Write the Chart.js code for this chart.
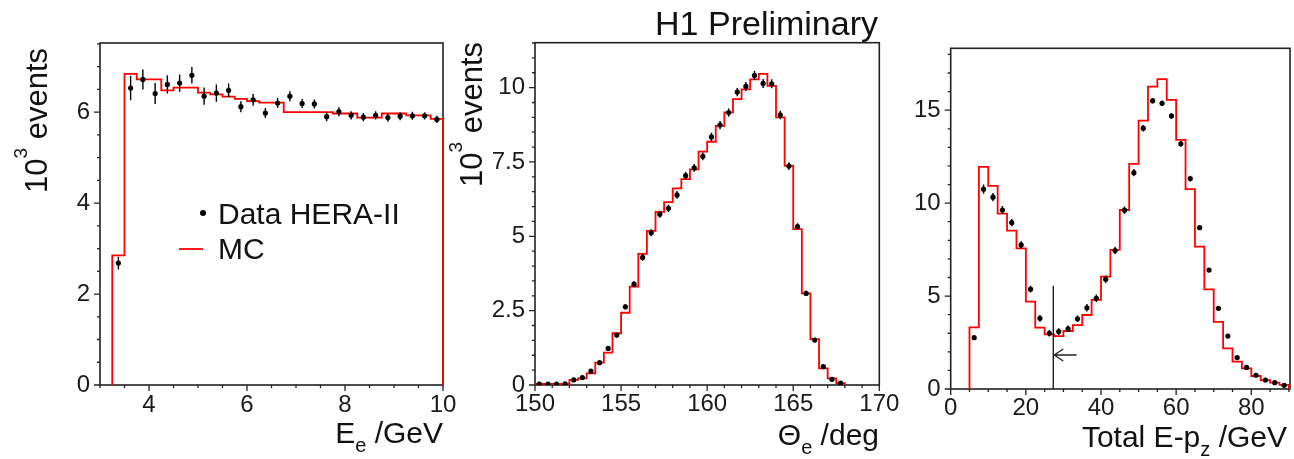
<!DOCTYPE html>
<html>
<head>
<meta charset="utf-8">
<script src="https://cdn.jsdelivr.net/npm/chart.js@4.4.1/dist/chart.umd.min.js"></script>
<style>
  html, body { margin: 0; padding: 0; background: #fff; }
  #wrap { position: relative; width: 1294px; height: 459px; overflow: hidden; }
  .pane { position: absolute; top: 0; height: 459px; }
</style>
</head>
<body>
<div id="wrap">
  <div class="pane" style="left:0;width:465px"><canvas id="c1"></canvas></div>
  <div class="pane" style="left:448px;width:455px"><canvas id="c2"></canvas></div>
  <div class="pane" style="left:888px;width:406px"><canvas id="c3"></canvas></div>
</div>
<script>
// ---- panel 1 : electron energy E_e (GeV), 10^3 events
const eeEdges = [3.25, 3.5, 3.75, 4, 4.25, 4.5, 4.75, 5, 5.25, 5.5, 5.75, 6, 6.25, 6.5, 6.75,
  7, 7.25, 7.5, 7.75, 8, 8.25, 8.5, 8.75, 9, 9.25, 9.5, 9.75, 10];
const eeMC = [2.85, 6.84, 6.72, 6.72, 6.48, 6.54, 6.54, 6.43, 6.39, 6.34, 6.29, 6.24, 6.21, 6.21,
  6.0, 6.0, 6.0, 6.0, 5.97, 5.97, 5.88, 5.88, 5.97, 5.97, 5.93, 5.93, 5.85];
const eeData = [2.68, 6.53, 6.72, 6.41, 6.61, 6.64, 6.81, 6.35, 6.42, 6.48, 6.12, 6.27, 5.98, 6.20,
  6.35, 6.19, 6.18, 5.90, 6.01, 5.93, 5.89, 5.93, 5.88, 5.91, 5.92, 5.92, 5.84];
const eeErr = [0.14, 0.27, 0.22, 0.23, 0.2, 0.19, 0.18, 0.19, 0.19, 0.15, 0.12, 0.13, 0.11, 0.11,
  0.11, 0.1, 0.1, 0.1, 0.1, 0.09, 0.09, 0.09, 0.09, 0.09, 0.09, 0.08, 0.08];
const eeXTicks = [4, 6, 8, 10];
const eeYTicks = [0, 2, 4, 6];

// ---- panel 2 : electron polar angle (deg)
const thEdges = [150, 150.5, 151, 151.5, 152, 152.5, 153, 153.5, 154, 154.5, 155, 155.5, 156,
  156.5, 157, 157.5, 158, 158.5, 159, 159.5, 160, 160.5, 161, 161.5, 162, 162.5, 163, 163.5,
  164, 164.5, 165, 165.5, 166, 166.5, 167, 167.5, 168];
const thMC = [0.04, 0.04, 0.04, 0.04, 0.17, 0.22, 0.39, 0.75, 1.09, 1.74, 2.43, 3.31, 4.41, 5.18,
  5.82, 6.15, 6.61, 6.92, 7.25, 7.85, 8.18, 8.71, 9.17, 9.61, 9.94, 10.28, 10.46, 10.06, 9.0,
  7.37, 5.24, 3.08, 1.54, 0.56, 0.22, 0.06];
const thData = [0.03, 0.03, 0.03, 0.04, 0.17, 0.25, 0.47, 0.75, 1.23, 1.68, 2.63, 3.39, 4.29, 5.12,
  5.74, 5.94, 6.39, 7.04, 7.30, 7.69, 8.34, 8.74, 9.16, 9.85, 10.04, 10.41, 10.14, 10.13, 9.08,
  7.36, 5.33, 3.08, 1.51, 0.62, 0.19, 0.06];
const thErr = [0.02, 0.02, 0.02, 0.02, 0.04, 0.04, 0.05, 0.06, 0.07, 0.08, 0.09, 0.1, 0.11, 0.12,
  0.12, 0.12, 0.13, 0.13, 0.13, 0.13, 0.14, 0.14, 0.14, 0.14, 0.15, 0.15, 0.15, 0.15, 0.14, 0.13,
  0.11, 0.09, 0.07, 0.05, 0.03, 0.02];
const thXTicks = [150, 155, 160, 165, 170];
const thYTicks = [0, 2.5, 5, 7.5, 10];

// ---- panel 3 : total E-pz (GeV)
const epEdges = [5, 7.5, 10, 12.5, 15, 17.5, 20, 22.5, 25, 27.5, 30, 32.5, 35, 37.5, 40, 42.5, 45,
  47.5, 50, 52.5, 55, 57.5, 60, 62.5, 65, 67.5, 70, 72.5, 75, 77.5, 80, 82.5, 85, 87.5, 90];
const epMC = [3.32, 11.95, 10.93, 9.44, 8.52, 7.57, 4.70, 3.30, 2.94, 2.85, 3.12, 3.44, 3.98, 4.79,
  6.05, 7.48, 9.63, 12.11, 14.44, 16.27, 16.67, 15.55, 13.40, 10.75, 7.66, 5.36, 3.61, 2.19,
  1.47, 1.11, 0.70, 0.48, 0.34, 0.22];
const epData = [2.76, 10.75, 10.32, 9.63, 8.95, 7.75, 5.37, 3.80, 3.00, 3.09, 3.24, 3.78, 4.37, 4.88,
  5.90, 7.45, 9.62, 11.64, 14.03, 15.51, 15.37, 14.69, 13.19, 11.32, 8.68, 6.40, 4.34, 2.85,
  1.69, 1.16, 0.74, 0.48, 0.34, 0.20];
const epErr = [0.1, 0.25, 0.22, 0.22, 0.2, 0.2, 0.18, 0.18, 0.18, 0.18, 0.18, 0.18, 0.2, 0.2, 0.2,
  0.2, 0.2, 0.2, 0.18, 0.15, 0.15, 0.15, 0.15, 0.15, 0.12, 0.1, 0.1, 0.08, 0.08, 0.07, 0.06,
  0.05, 0.04, 0.03];
const epXTicks = [0, 20, 40, 60, 80];
const epYTicks = [0, 5, 10, 15];
const cutValue = 27.3;     // E-pz cut line
const cutTop = 5.56;
const arrowLevel = 1.83;
const arrowTail = 33.5;

const FONT = '"Liberation Sans", Arial, Helvetica, sans-serif';
Chart.defaults.font.family = FONT;

// step histogram outline: vertical at each edge, flat across each bin
function histPoints(edges, vals) {
  const pts = [{x: edges[0], y: 0}];
  vals.forEach((v, i) => pts.push({x: edges[i + 1], y: v}));
  pts.push({x: edges[edges.length - 1], y: 0});
  return pts;
}
function binCentres(edges, vals) {
  return vals.map((v, i) => ({x: (edges[i] + edges[i + 1]) / 2, y: v}));
}

// text with sub/superscripts; parts = [text, size, dy]
function rich(ctx, parts, x, y, align, rot) {
  ctx.save();
  ctx.translate(x, y);
  if (rot) ctx.rotate(-Math.PI / 2);
  ctx.fillStyle = '#111';
  ctx.textBaseline = 'alphabetic';
  ctx.textAlign = 'left';
  let w = 0;
  parts.forEach(p => { ctx.font = p[1] + 'px ' + FONT; w += ctx.measureText(p[0]).width; });
  let cx = align === 'right' ? -w : 0;
  parts.forEach(p => {
    ctx.font = p[1] + 'px ' + FONT;
    ctx.fillText(p[0], cx, p[2]);
    cx += ctx.measureText(p[0]).width;
  });
  ctx.restore();
}

function minorTicks(ctx, scale, step, majors, horiz, a) {
  const n0 = Math.ceil(scale.min / step - 1e-6), n1 = Math.floor(scale.max / step + 1e-6);
  ctx.beginPath();
  for (let n = n0; n <= n1; n++) {
    const v = n * step;
    const len = majors.some(m => Math.abs(m - v) < 1e-6) ? 6 : 3;
    const p = scale.getPixelForValue(v);
    if (horiz) { ctx.moveTo(p, a.bottom); ctx.lineTo(p, a.bottom + len); }
    else { ctx.moveTo(a.left, p); ctx.lineTo(a.left - len, p); }
  }
  ctx.stroke();
}

const panelExtras = {
  c1(chart, ctx) {
    rich(ctx, [['10', 31, 0], ['3', 19, -20], [' events', 31, 0]], 47, 193, 'left', true);
    rich(ctx, [['E', 30, 0], ['e', 20, 9], [' /GeV', 30, 0]], 443, 443, 'right');
    ctx.fillStyle = '#000';
    ctx.beginPath(); ctx.arc(203, 213, 3, 0, Math.PI * 2); ctx.fill();
    rich(ctx, [['Data HERA-II', 30, 0]], 218, 223.5, 'left');
    ctx.strokeStyle = '#ff0000'; ctx.lineWidth = 1.8;
    ctx.beginPath(); ctx.moveTo(179, 249); ctx.lineTo(203, 249); ctx.stroke();
    rich(ctx, [['MC', 30, 0]], 218, 258.5, 'left');
  },
  c2(chart, ctx) {
    rich(ctx, [['H1 Preliminary', 34, 0]], 430, 35, 'right');
    rich(ctx, [['10', 31, 0], ['3', 19, -20], [' events', 31, 0]], 33.5, 187, 'left', true);
    rich(ctx, [['\u0398', 30, 0], ['e', 20, 9], [' /deg', 30, 0]], 431, 445, 'right');
  },
  c3(chart, ctx) {
    const {x, y} = chart.scales;
    rich(ctx, [['Total E-p', 30, 0], ['z', 20, 9], [' /GeV', 30, 0]], 399, 447, 'right');
    const xc = x.getPixelForValue(cutValue);
    const ya = y.getPixelForValue(arrowLevel);
    ctx.strokeStyle = '#222'; ctx.lineWidth = 1.4;
    ctx.beginPath();
    ctx.moveTo(xc, y.getPixelForValue(0)); ctx.lineTo(xc, y.getPixelForValue(cutTop));
    ctx.moveTo(x.getPixelForValue(arrowTail), ya); ctx.lineTo(xc + 1, ya);
    ctx.moveTo(xc + 10, ya - 6); ctx.lineTo(xc + 1, ya); ctx.lineTo(xc + 10, ya + 6);
    ctx.stroke();
  }
};

const histPlugin = {
  id: 'hist',
  beforeDatasetsDraw(chart) {
    const {ctx, chartArea: a} = chart;
    ctx.save();
    ctx.strokeStyle = '#222'; ctx.lineWidth = 1.6;
    ctx.strokeRect(a.left, a.top, a.right - a.left, a.bottom - a.top);
    ctx.restore();
  },
  afterDatasetsDraw(chart) {
    const {ctx, chartArea: a, scales: {x, y}} = chart;
    const p = panels[chart.canvas.id];
    const pts = chart.getDatasetMeta(1).data;
    ctx.save();
    ctx.strokeStyle = '#000'; ctx.lineWidth = 1.4;
    ctx.beginPath();
    p.err.forEach((e, i) => {
      const px = pts[i].x;
      ctx.moveTo(px, y.getPixelForValue(p.data[i] - e));
      ctx.lineTo(px, y.getPixelForValue(p.data[i] + e));
    });
    ctx.stroke();
    ctx.strokeStyle = '#222'; ctx.lineWidth = 1.3;
    minorTicks(ctx, x, p.xMinor, p.xTicks, true, a);
    minorTicks(ctx, y, p.yMinor, p.yTicks, false, a);
    panelExtras[chart.canvas.id](chart, ctx);
    ctx.restore();
  }
};

const panels = {
  c1: {edges: eeEdges, mc: eeMC, data: eeData, err: eeErr, xTicks: eeXTicks, yTicks: eeYTicks,
       xMin: 3, xMax: 10, yMax: 7.52, xMinor: 0.5, yMinor: 0.5,
       yWidth: 100, xHeight: 74, top: 43, right: 22, xPad: 6},
  c2: {edges: thEdges, mc: thMC, data: thData, err: thErr, xTicks: thXTicks, yTicks: thYTicks,
       xMin: 150, xMax: 170, yMax: 11.51, xMinor: 1, yMinor: 0.5,
       yWidth: 87, xHeight: 74, top: 42.7, right: 23.7, xPad: 5},
  c3: {edges: epEdges, mc: epMC, data: epData, err: epErr, xTicks: epXTicks, yTicks: epYTicks,
       xMin: 0, xMax: 90.3, yMax: 18.33, xMinor: 5, yMinor: 1,
       yWidth: 62.7, xHeight: 70, top: 48.3, right: 1.3, xPad: 5}
};

function makePanel(id) {
  const p = panels[id];
  const tickFont = {size: 24, family: FONT};
  return new Chart(document.getElementById(id), {
    type: 'scatter',
    data: {
      datasets: [
        {type: 'line', data: histPoints(p.edges, p.mc), stepped: 'after', borderColor: '#ff0000',
         borderWidth: 1.8, pointRadius: 0, fill: false, order: 2},
        {data: binCentres(p.edges, p.data), pointRadius: 2.6, backgroundColor: '#000',
         borderWidth: 0, order: 1}
      ]
    },
    options: {
      responsive: true,
      maintainAspectRatio: false,
      animation: false,
      layout: {padding: {top: p.top, right: p.right, left: 0, bottom: 0}},
      plugins: {legend: {display: false}, tooltip: {enabled: false}},
      scales: {
        x: {
          type: 'linear', min: p.xMin, max: p.xMax,
          grid: {display: false, drawTicks: false}, border: {display: false},
          ticks: {font: tickFont, color: '#1a1a1a', padding: p.xPad, maxRotation: 0,
                  autoSkip: false, callback: v => String(v)},
          afterBuildTicks: s => { s.ticks = p.xTicks.map(v => ({value: v})); },
          afterFit: s => { s.height = p.xHeight; s.paddingLeft = 0; s.paddingRight = 0; }
        },
        y: {
          type: 'linear', min: 0, max: p.yMax,
          grid: {display: false, drawTicks: false}, border: {display: false},
          ticks: {font: tickFont, color: '#1a1a1a', padding: 10, callback: v => String(v)},
          afterBuildTicks: s => { s.ticks = p.yTicks.map(v => ({value: v})); },
          afterFit: s => { s.width = p.yWidth; s.paddingTop = 0; s.paddingBottom = 0; }
        }
      }
    },
    plugins: [histPlugin]
  });
}

makePanel('c1');
makePanel('c2');
makePanel('c3');
</script>
</body>
</html>
